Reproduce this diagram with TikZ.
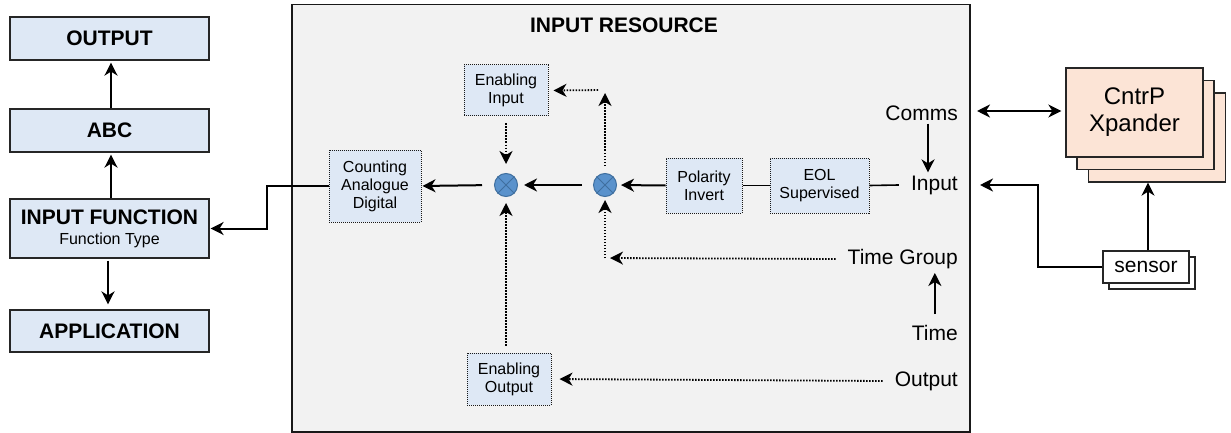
\documentclass[tikz,border=0pt]{standalone}
\usepackage{fontspec}
\setmainfont{Liberation Sans}
\usetikzlibrary{arrows.meta}
\definecolor{lblue}{HTML}{DEE8F5}
\definecolor{bgray}{HTML}{F2F2F2}
\definecolor{peach}{HTML}{FCE4D6}
\definecolor{cblue}{HTML}{5A92CC}
\definecolor{cedge}{HTML}{3F6F9F}
\tikzset{
  mytip/.tip={Stealth[length=13pt,width=13pt,inset=4pt]},
  lbox/.style={draw=black!85, fill=lblue, line width=1.2pt, minimum width=199pt, inner sep=0pt, align=center, font=\bfseries\fontsize{21}{24}\selectfont},
  dbox/.style={draw=black!90, fill=lblue, line width=1pt, dash pattern=on 1pt off 1pt, align=center, inner sep=0pt, font=\fontsize{16}{18}\selectfont},
  pbox/.style={draw=black!85, fill=peach, line width=1.3pt, minimum width=137pt, minimum height=89pt, inner sep=0pt, align=center, font=\fontsize{24}{27}\selectfont},
  sbox/.style={draw=black!85, fill=white, line width=1.2pt, minimum width=86pt, minimum height=32pt, inner sep=0pt, font=\fontsize{21}{24}\selectfont},
  lab/.style={anchor=east, inner xsep=12pt, inner ysep=3pt, font=\fontsize{21}{24}\selectfont},
  xc/.style={circle, draw=cedge, fill=cblue, line width=1pt, minimum size=23pt, inner sep=0pt},
  arr/.style={line width=2pt, -mytip},
  darr/.style={line width=1.8pt, dash pattern=on 1.5pt off 1.5pt, -mytip},
  plain/.style={line width=1.6pt}
}
\begin{document}
\begin{tikzpicture}[x=1pt,y=-1pt]
\useasboundingbox (0,0) rectangle (1231,433);

% main container
\node[draw=black!90, fill=bgray, line width=1.5pt, minimum width=678pt, minimum height=427pt, inner sep=0pt, anchor=north west] (main) at (291,4) {};
\node[font=\bfseries\fontsize{21}{24}\selectfont] (title) at (624,25) {INPUT RESOURCE};

% left column
\node[lbox, minimum height=43pt] (out) at (109.5,38.5) {OUTPUT};
\node[lbox, minimum height=43pt] (abc) at (109.5,130.5) {ABC};
\node[lbox, minimum height=59pt] (infn) at (109.5,228.5) {INPUT FUNCTION\\[-4pt]{\mdseries\fontsize{16}{18}\selectfont Function Type}};
\node[lbox, minimum height=42pt] (app) at (109.5,331) {APPLICATION};

\draw[arr, shorten >=2pt] (abc.north -| 111,0) -- (out.south -| 111,0);
\draw[arr, shorten >=2pt] (infn.north -| 111,0) -- (abc.south -| 111,0);
\draw[arr, shorten <=2pt, shorten >=5pt] (infn.south -| 108,0) -- (app.north -| 108,0);

% inner boxes
\node[dbox, minimum width=92pt, minimum height=72pt] (count) at (375,186) {Counting\\Analogue\\Digital};
\node[dbox, minimum width=84pt, minimum height=51pt] (enin) at (506,90.5) {Enabling\\Input};
\node[dbox, minimum width=76pt, minimum height=55pt] (pol) at (704,185.5) {Polarity\\Invert};
\node[dbox, minimum width=99pt, minimum height=55pt] (eol) at (819.5,185.5) {EOL\\Supervised};
\node[dbox, minimum width=84pt, minimum height=52pt] (enout) at (509,379) {Enabling\\Output};

% mixers
\node[xc] (c1) at (506,185) {};
\node[xc] (c2) at (605,185) {};
\draw[cedge, line width=1pt] (c1.45) -- (c1.225) (c1.135) -- (c1.315);
\draw[cedge, line width=1pt] (c2.45) -- (c2.225) (c2.135) -- (c2.315);

% right labels
\node[lab] (comms) at (970,113) {Comms};
\node[lab] (inp) at (970,185) {Input};
\node[lab] (tg) at (970,259) {Time Group};
\node[lab] (time) at (970,333) {Time};
\node[lab] (outl) at (970,381) {Output};

% solid signal path
\draw[plain] (inp.west) -- (eol.east);
\draw[plain] (eol.west) -- (pol.east);
\draw[arr, shorten >=4pt] (pol.west) -- (c2.east);
\draw[arr, shorten <=11pt, shorten >=6pt] (c2.west) -- (c1.east);
\draw[arr, shorten <=12pt, shorten >=1pt] (c1.west) -- (count.east);
\draw[arr, shorten >=1pt] (count.west) -- (267,0 |- count.west) -- (267,0 |- infn.east) -- (infn.east);

% dotted paths
\coordinate (k1) at (605,90);
\coordinate (k2) at (605,258);
\draw[darr, shorten <=7pt, shorten >=9pt] (enin.south) -- (c1.north);
\draw[darr, shorten <=7pt, shorten >=3pt] (c2.north) -- (k1);
\draw[darr, shorten <=7pt, shorten >=5pt] (k1) -- (enin.east);
\draw[darr, shorten >=5pt] (tg.west) -- (k2);
\draw[darr, shorten >=3pt] (k2) -- (c2.south);
\draw[darr, shorten <=7pt, shorten >=6pt] (enout.north -| c1.south) -- (c1.south);
\draw[darr, shorten >=8pt] (outl.west) -- (enout.east);

% label arrows
\draw[arr] (comms.south -| 928,0) -- (inp.north -| 928,0);
\draw[arr, shorten >=1pt] ([yshift=8pt]time.north) -- (time.north |- tg.south);

% expander stack
\node[sbox] (sensb) at (1152,273) {};
\node[sbox] (sens) at (1146,267) {sensor};
\node[pbox] (cntr3) at (1157,137.5) {};
\node[pbox] (cntr2) at (1145.5,125) {};
\node[pbox] (cntr1) at (1134.5,112.5) {CntrP\\Xpander};

\draw[line width=2pt, mytip-mytip, shorten <=7pt, shorten >=4pt] (comms.east |- 0,111) -- (cntr1.west |- 0,111);
\draw[arr, shorten >=10pt] (sens.west) -- (1038,0 |- sens.west) -- (1038,0 |- inp.east) -- (inp.east);
\draw[arr] (sens.north -| 1148,0) -- (cntr3.south -| 1148,0);
\end{tikzpicture}
\end{document}
